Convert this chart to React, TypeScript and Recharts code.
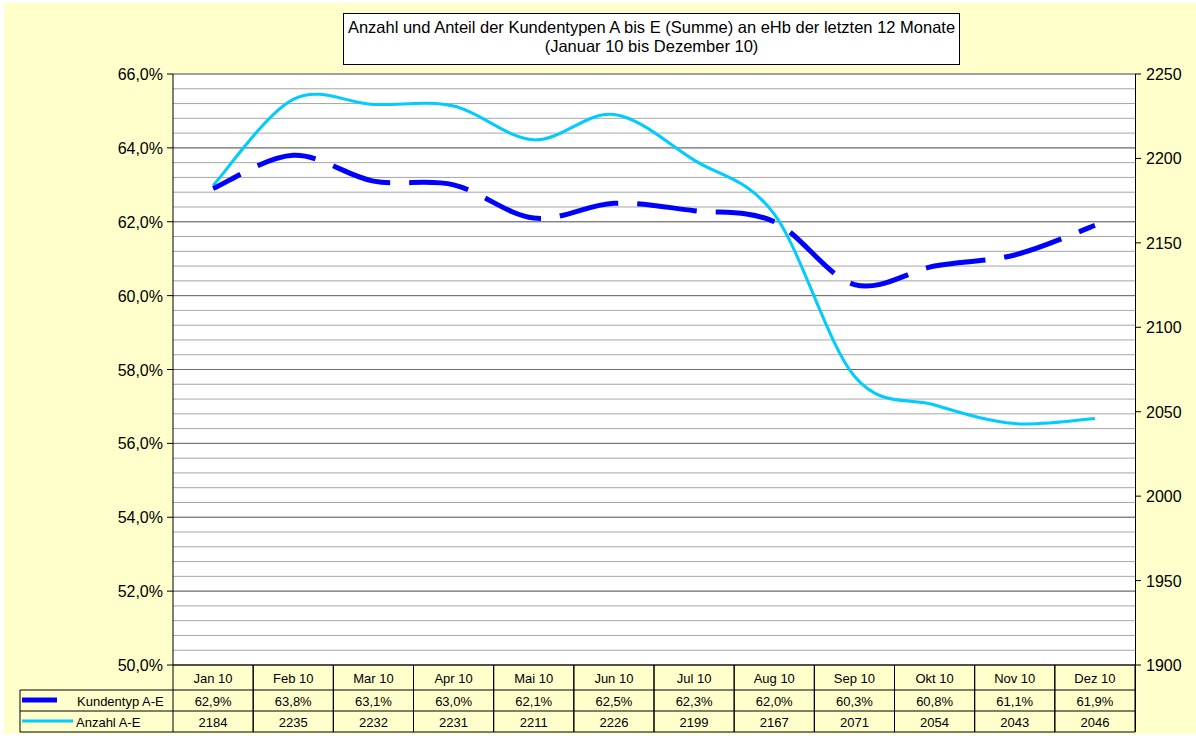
import React from 'react';
import {
  LineChart, Line, XAxis, YAxis, CartesianGrid, ReferenceLine
} from 'recharts';

const MONTHS = ['Jan 10', 'Feb 10', 'Mar 10', 'Apr 10', 'Mai 10', 'Jun 10', 'Jul 10', 'Aug 10', 'Sep 10', 'Okt 10', 'Nov 10', 'Dez 10'];
const ANTEIL = [62.9, 63.8, 63.1, 63.0, 62.1, 62.5, 62.3, 62.0, 60.3, 60.8, 61.1, 61.9];
const ANZAHL = [2184, 2235, 2232, 2231, 2211, 2226, 2199, 2167, 2071, 2054, 2043, 2046];

const LEFT_TICKS = Array.from({ length: 41 }, (_, i) => Math.round((50 + i * 0.4) * 10) / 10);
const MAJOR_TICKS = [50, 52, 54, 56, 58, 60, 62, 64, 66];
const RIGHT_TICKS = [1900, 1950, 2000, 2050, 2100, 2150, 2200, 2250];

const BG = '#FFFFCC';
const DARK_BLUE = '#0000FF';
const CYAN = '#00CCFF';
const FONT = '"Liberation Sans", Arial, sans-serif';

const W = 1196;
const H = 738;
const PLOT_LEFT = 173;
const PLOT_RIGHT = 1135;
const BAND = (PLOT_RIGHT - PLOT_LEFT) / MONTHS.length;

const data = MONTHS.map((m, i) => ({ name: m, anteil: ANTEIL[i], anzahl: ANZAHL[i] }));

const fmtPct = (v: number) => v.toFixed(1).replace('.', ',') + '%';

// Excel-like smoothing (Catmull-Rom as cubic bezier)
const excelCurve: any = (context: any) => {
  let pts: number[][] = [];
  return {
    areaStart() {},
    areaEnd() {},
    lineStart() { pts = []; },
    point(x: number, y: number) { pts.push([+x, +y]); },
    lineEnd() {
      if (!pts.length) return;
      context.moveTo(pts[0][0], pts[0][1]);
      for (let i = 0; i < pts.length - 1; i++) {
        const p0 = pts[i - 1] || pts[i];
        const p1 = pts[i];
        const p2 = pts[i + 1];
        const p3 = pts[i + 2] || pts[i + 1];
        context.bezierCurveTo(
          p1[0] + (p2[0] - p0[0]) / 6, p1[1] + (p2[1] - p0[1]) / 6,
          p2[0] - (p3[0] - p1[0]) / 6, p2[1] - (p3[1] - p1[1]) / 6,
          p2[0], p2[1]
        );
      }
    },
  };
};

const LeftTick = (props: any) => {
  const { x, y, payload } = props;
  const v = payload.value;
  if (!MAJOR_TICKS.some(m => Math.abs(m - v) < 0.01)) return null;
  return (
    <g>
      <line x1={PLOT_LEFT - 6} x2={PLOT_LEFT} y1={y} y2={y} stroke="#000" />
      <text x={x - 2} y={y + 6} textAnchor="end" fontSize={16} fontFamily={FONT} fill="#000">{fmtPct(v)}</text>
    </g>
  );
};

const RightTick = (props: any) => {
  const { y, payload } = props;
  return (
    <g>
      <line x1={PLOT_RIGHT} x2={PLOT_RIGHT + 6} y1={y} y2={y} stroke="#000" />
      <text x={PLOT_RIGHT + 11} y={y + 6} textAnchor="start" fontSize={16} fontFamily={FONT} fill="#000">{payload.value}</text>
    </g>
  );
};

const TableTick = (props: any) => {
  const { x, y, index } = props;
  const l = x - BAND / 2;
  const r = x + BAND / 2;
  const r1 = y + 25;
  const r2 = y + 46;
  const r3 = y + 67;
  const txt = { fontSize: 13, fontFamily: FONT, fill: '#000', textAnchor: 'middle' as const };
  return (
    <g>
      <line x1={l} x2={l} y1={y} y2={r3} stroke="#000" />
      <line x1={r} x2={r} y1={y} y2={r3} stroke="#000" />
      <line x1={l} x2={r} y1={r1} y2={r1} stroke="#000" />
      <line x1={l} x2={r} y1={r2} y2={r2} stroke="#000" />
      <line x1={l} x2={r} y1={r3} y2={r3} stroke="#000" />
      <text x={x} y={y + 18} {...txt}>{MONTHS[index]}</text>
      <text x={x} y={r1 + 16} {...txt}>{fmtPct(ANTEIL[index])}</text>
      <text x={x} y={r2 + 16} {...txt}>{ANZAHL[index]}</text>
      {index === 0 && (
        <g>
          <line x1={20} x2={l} y1={r1} y2={r1} stroke="#000" />
          <line x1={20} x2={l} y1={r2} y2={r2} stroke="#000" />
          <line x1={20} x2={l} y1={r3} y2={r3} stroke="#000" />
          <line x1={20} x2={20} y1={r1} y2={r3} stroke="#000" />
          <line x1={22} x2={57} y1={r1 + 10} y2={r1 + 10} stroke={DARK_BLUE} strokeWidth={5} />
          <text x={77} y={r1 + 16} fontSize={13} fontFamily={FONT} fill="#000">Kundentyp A-E</text>
          <line x1={22} x2={73} y1={r2 + 10} y2={r2 + 10} stroke={CYAN} strokeWidth={3} />
          <text x={76} y={r2 + 16} fontSize={13} fontFamily={FONT} fill="#000">Anzahl A-E</text>
        </g>
      )}
    </g>
  );
};

export default function App() {
  return (
    <div style={{ position: 'absolute', left: 0, top: 0, width: W, height: H, background: '#FFFFFF', fontFamily: FONT }}>
      <div style={{ position: 'absolute', left: 4, top: 3, width: W - 4, height: H - 7, background: BG }} />
      <div style={{ position: 'absolute', left: 0, top: 0 }}>
        <LineChart width={W} height={H} data={data} margin={{ top: 74, right: 6, bottom: 6, left: 113 }}>
          <CartesianGrid yAxisId="left" vertical={false} stroke="#A6A6A6" fill="#FFFFFF" />
          {MAJOR_TICKS.map(v => (
            <ReferenceLine key={v} yAxisId="left" y={v} stroke="#6E6E6E" />
          ))}
          <XAxis
            dataKey="name"
            scale="band"
            interval={0}
            height={67}
            tickLine={false}
            tickSize={0}
            tickMargin={0}
            axisLine={{ stroke: '#000' }}
            tick={<TableTick />}
          />
          <YAxis
            yAxisId="left"
            width={60}
            domain={[50, 66]}
            ticks={LEFT_TICKS}
            interval={0}
            tickLine={false}
            axisLine={{ stroke: '#000' }}
            tick={<LeftTick />}
            allowDataOverflow
          />
          <YAxis
            yAxisId="right"
            orientation="right"
            width={55}
            domain={[1900, 2250]}
            ticks={RIGHT_TICKS}
            interval={0}
            tickLine={false}
            axisLine={false}
            tick={<RightTick />}
            allowDataOverflow
          />
          <Line
            yAxisId="right"
            dataKey="anzahl"
            type={excelCurve}
            stroke={CYAN}
            strokeWidth={3}
            dot={false}
            activeDot={false}
            isAnimationActive={false}
          />
          <Line
            yAxisId="left"
            dataKey="anteil"
            type={excelCurve}
            stroke={DARK_BLUE}
            strokeWidth={5}
            strokeDasharray="60 19"
            strokeDashoffset={29}
            dot={false}
            activeDot={false}
            isAnimationActive={false}
          />
        </LineChart>
      </div>
      {/* right spine extends through the data table */}
      <div style={{ position: 'absolute', left: PLOT_RIGHT - 0.5, top: 74, width: 1, height: 732 - 74, background: '#000' }} />
      <div style={{
        position: 'absolute', left: 343, top: 13, width: 615, height: 46,
        border: '1px solid #000', background: '#fff', textAlign: 'center',
        fontSize: 16.5, lineHeight: '19px', paddingTop: 4, boxSizing: 'content-box', color: '#000'
      }}>
        Anzahl und Anteil der Kundentypen A bis E (Summe) an eHb der letzten 12 Monate<br />
        (Januar 10 bis Dezember 10)
      </div>
    </div>
  );
}
